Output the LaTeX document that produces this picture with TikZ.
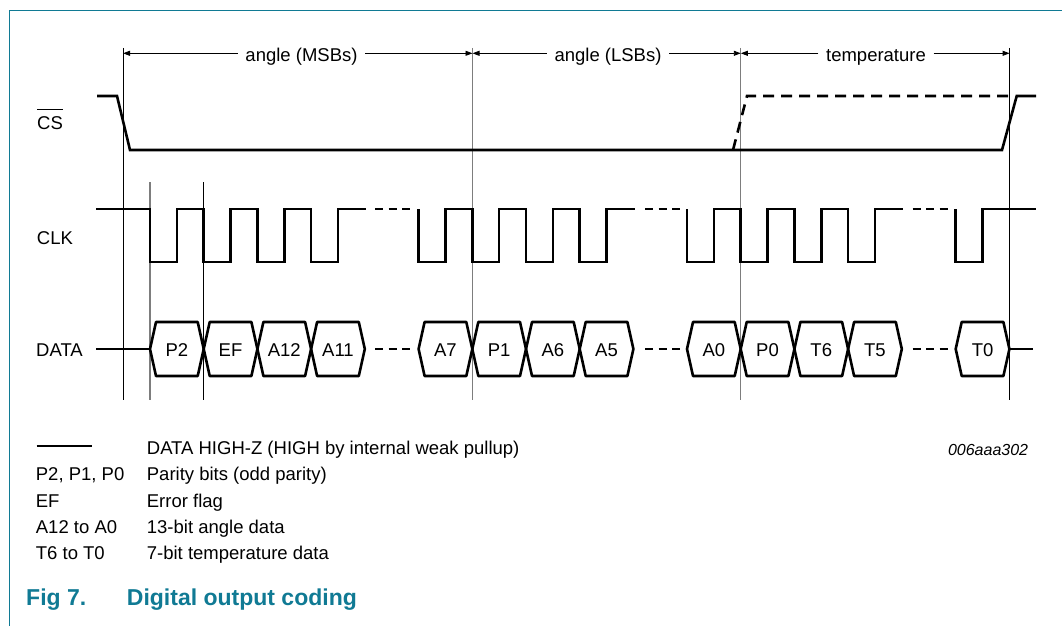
\documentclass[tikz,border=0pt]{standalone}
\usepackage{fontspec}
\setmainfont{Liberation Sans}
\usetikzlibrary{arrows.meta}
\definecolor{nxpteal}{RGB}{16,122,148}
\definecolor{guidegrey}{RGB}{125,125,125}
\newcommand\dcell[4]{%
  \draw[cellline] (#1,349) -- (#1+6,322) -- (#2-6,322) -- (#2,349) -- (#2-6,376) -- (#1+6,376) -- cycle;
  \node[txt] (#4) at ({(#1+#2)/2},349.5) {#3};
}
\begin{document}
\begin{tikzpicture}[x=1pt,y=-1pt,
  sig/.style={line width=2.6pt, line join=miter},
  cellline/.style={line width=2.6pt, line join=round},
  dots/.style={line width=2.6pt, dash pattern=on 8pt off 5.5pt},
  guide/.style={line width=0.9pt, black},
  guideg/.style={line width=1.1pt, guidegrey},
  dim/.style={line width=0.9pt, -{Triangle[length=7pt,width=5pt]}},
  txt/.style={font=\fontsize{18.5}{22}\selectfont, inner sep=0pt, text height=13.2pt, text depth=0pt},
  lab/.style={txt, anchor=west},
  capt/.style={font=\fontsize{23}{27}\selectfont\bfseries, text=nxpteal, inner sep=0pt, text height=16.5pt, text depth=0pt, anchor=west}
]
\useasboundingbox (0,0) rectangle (1062,626);
% frame
\draw[nxpteal, line width=1.3pt] (9.3,626) -- (9.3,10.7) -- (1062,10.7);

% guide lines
\coordinate (g1t) at (123,48);   \coordinate (g1b) at (123,400);
\coordinate (g2t) at (472.5,48); \coordinate (g2b) at (472.5,400);
\coordinate (g3t) at (740.8,48); \coordinate (g3b) at (740.8,400);
\coordinate (g4t) at (1009.6,48);\coordinate (g4b) at (1009.6,400);
\draw[guide] (g1t) -- (g1b);
\draw[guideg] (g2t) -- (g2b);
\draw[guideg] (g3t) -- (g3b);
\draw[guide] (g4t) -- (g4b);
\draw[guideg] (150,182) -- (150,400);
\draw[guide] (203.7,182) -- (203.7,400);

% dimension arrows
\coordinate (d1) at (123,53.3);
\coordinate (d2) at (472.5,53.3);
\coordinate (d3) at (740.8,53.3);
\coordinate (d4) at (1009.6,53.3);
\node[txt] (msb) at (301.5,54.5) {angle (MSBs)};
\node[txt] (lsb) at (608,54.5) {angle (LSBs)};
\node[txt] (tmp) at (876,54.5) {temperature};
\draw[dim] ([xshift=-7.5pt]msb.west |- d1) -- (d1);
\draw[dim] ([xshift=7.5pt]msb.east |- d2) -- (d2);
\draw[dim] ([xshift=-7.5pt]lsb.west |- d2) -- (d2);
\draw[dim] ([xshift=7.5pt]lsb.east |- d3) -- (d3);
\draw[dim] ([xshift=-7.5pt]tmp.west |- d3) -- (d3);
\draw[dim] ([xshift=7.5pt]tmp.east |- d4) -- (d4);

% signal labels
\node[lab] (cs) at (37,122.7) {CS};
\draw[line width=1pt] ([yshift=6.5pt]cs.north west) -- ([yshift=6.5pt]cs.north east);
\node[lab] (clk) at (36.7,237.5) {CLK};
\node[lab] (data) at (36,350) {DATA};

% CS
\draw[sig] (97,96) -- (117,96) -- (130,150) -- (1002,150) -- (1016.7,96) -- (1036,96);
\draw[line width=2.6pt, dash pattern=on 11pt off 7pt] (733,150) -- (747,96) -- (1013,96);

% CLK
\draw[sig] (96,209) -- (150,209) \foreach \k in {1,...,4} { -- ++(0,53) -- ++(26.85,0) -- ++(0,-53) -- ++(26.85,0) } -- (366,209);
\draw[dots] (375,209) -- (412,209);
\draw[sig] (418.6,209) \foreach \k in {1,...,4} { -- ++(0,53) -- ++(26.85,0) -- ++(0,-53) -- ++(26.85,0) } -- (635,209);
\draw[dots] (645,209) -- (680,209);
\draw[sig] (687,209) \foreach \k in {1,...,4} { -- ++(0,53) -- ++(26.85,0) -- ++(0,-53) -- ++(26.85,0) } -- (902.7,209);
\draw[dots] (912.7,209) -- (948.3,209);
\draw[sig] (955.7,209) -- ++(0,53) -- ++(27,0) -- ++(0,-53) -- (1036,209);

% DATA
\draw[sig] (96,349) -- (150,349);
\dcell{150}{203.7}{P2}{cp2}
\dcell{203.7}{257.4}{EF}{cef}
\dcell{257.4}{311.1}{A12}{ca12}
\dcell{311.1}{364.8}{A11}{ca11}
\draw[dots] (375,349) -- (412,349);
\dcell{418.6}{472.3}{A7}{ca7}
\dcell{472.3}{526}{P1}{cp1}
\dcell{526}{579.7}{A6}{ca6}
\dcell{579.7}{633.4}{A5}{ca5}
\draw[dots] (645,349) -- (680,349);
\dcell{687}{740.7}{A0}{ca0}
\dcell{740.7}{794.4}{P0}{cp0}
\dcell{794.4}{848.1}{T6}{ct6}
\dcell{848.1}{901.8}{T5}{ct5}
\draw[dots] (912.7,349) -- (948.3,349);
\dcell{955.7}{1009.4}{T0}{ct0}
\draw[sig] (1009.4,349) -- (1033,349);

% legend
\draw[line width=2.6pt] (36.7,446) -- (91.7,446);
\node[lab] (l1) at (146.7,448) {DATA HIGH-Z (HIGH by internal weak pullup)};
\node[lab] (k2) at (35.7,474.3) {P2, P1, P0};
\node[lab] (l2) at (146.7,474.3) {Parity bits (odd parity)};
\node[lab] (k3) at (35.7,500.6) {EF};
\node[lab] (l3) at (146.7,500.6) {Error flag};
\node[lab] (k4) at (35.7,526.9) {A12 to A0};
\node[lab] (l4) at (146.7,526.9) {13-bit angle data};
\node[lab] (k5) at (35.7,553.2) {T6 to T0};
\node[lab] (l5) at (146.7,553.2) {7-bit temperature data};
\node[font=\fontsize{16}{19}\selectfont\itshape, inner sep=0pt, text height=11.4pt, text depth=0pt, anchor=east] (code) at (1028.3,449.3) {006aaa302};

% caption
\node[capt] (fig) at (26,597) {Fig 7.};
\node[capt] (cap) at (126.7,597) {Digital output coding};
\end{tikzpicture}
\end{document}
